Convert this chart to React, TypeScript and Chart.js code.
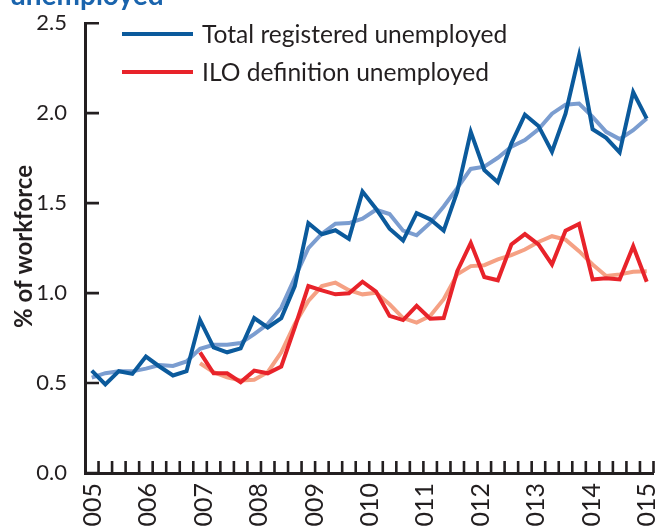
import React, { useEffect, useRef } from "react";
import { Chart, registerables } from "chart.js";

Chart.register(...registerables);

// ---------- data ----------
const years = [2005, 2006, 2007, 2008, 2009, 2010, 2011, 2012, 2013, 2014, 2015];
const quarterNames = ["Q1", "Q2", "Q3", "Q4"];
// quarterly categories, 2005 Q1 .. 2015 Q2
const quarters: string[] = [];
years.forEach((y) => quarterNames.forEach((q) => quarters.push(`${y} ${q}`)));
quarters.splice(42);

const totalRegistered = [
  0.569, 0.492, 0.566, 0.551, 0.647, 0.592, 0.542, 0.566,
  0.85, 0.698, 0.671, 0.693, 0.861, 0.809, 0.861, 1.039,
  1.389, 1.327, 1.349, 1.301, 1.564, 1.469, 1.358, 1.292,
  1.444, 1.41, 1.347, 1.564, 1.896, 1.684, 1.616, 1.831,
  1.992, 1.929, 1.786, 1.997, 2.32, 1.911, 1.863, 1.782,
  2.117, 1.97,
];
const totalTrend = [
  0.53, 0.555, 0.565, 0.565, 0.58, 0.6, 0.595, 0.62,
  0.69, 0.713, 0.713, 0.722, 0.772, 0.828, 0.919, 1.085,
  1.25, 1.33, 1.386, 1.389, 1.413, 1.463, 1.439, 1.347,
  1.321, 1.39, 1.481, 1.583, 1.69, 1.703, 1.752, 1.813,
  1.85, 1.91, 1.997, 2.047, 2.053, 1.979, 1.896, 1.856,
  1.905, 1.97,
];
const iloUnemployed = [
  null, null, null, null, null, null, null, null,
  0.67, 0.554, 0.554, 0.505, 0.569, 0.554, 0.592, 0.809,
  1.039, 1.015, 0.993, 0.999, 1.063, 1.008, 0.873, 0.85,
  0.929, 0.858, 0.861, 1.122, 1.279, 1.089, 1.071, 1.27,
  1.328, 1.27, 1.159, 1.347, 1.384, 1.076, 1.082, 1.076,
  1.26, 1.063,
];
const iloTrend = [
  null, null, null, null, null, null, null, null,
  0.61, 0.56, 0.532, 0.514, 0.518, 0.56, 0.671, 0.828,
  0.956, 1.039, 1.058, 1.016, 0.993, 1.002, 0.938, 0.861,
  0.836, 0.873, 0.966, 1.104, 1.15, 1.155, 1.187, 1.211,
  1.242, 1.284, 1.316, 1.297, 1.233, 1.159, 1.095, 1.104,
  1.118, 1.122,
];
const seriesLabels = ["Total registered unemployed", "ILO definition unemployed"];
const titleText = "unemployed";
const yAxisTitle = "% of workforce";

// ---------- styles ----------
const FONT = "Lato, 'Open Sans', sans-serif";
const AXIS = "#231f20";
const TEXT = "#231f20";
const BLUE = "#0b5a9c";
const BLUE_LIGHT = "#7b9dd0";
const RED = "#e8232a";
const SALMON = "#f5a184";
const TITLE_BLUE = "#1a64ad";

const decor = {
  id: "decor",
  beforeDatasetsDraw(chart: any) {
    const { ctx, chartArea, scales } = chart;
    const xs = scales.x;
    const ys = scales.y;
    ctx.save();
    ctx.strokeStyle = AXIS;
    ctx.lineWidth = 2.6;
    ctx.lineCap = "butt";
    ctx.beginPath();
    for (let i = 1; i <= quarters.length; i++) {
      const px = xs.getPixelForValue(i - 0.5);
      ctx.moveTo(px, chartArea.bottom);
      ctx.lineTo(px, chartArea.bottom - 12);
    }
    ys.ticks.forEach((t: any) => {
      const py = ys.getPixelForValue(t.value);
      ctx.moveTo(chartArea.left, py);
      ctx.lineTo(chartArea.left + 14, py);
    });
    ctx.stroke();
    ctx.restore();
  },
  afterDraw(chart: any) {
    const { ctx } = chart;
    ctx.save();
    // cut-off title
    ctx.fillStyle = TITLE_BLUE;
    ctx.font = `bold 28px ${FONT}`;
    ctx.textAlign = "left";
    ctx.textBaseline = "alphabetic";
    ctx.fillText(titleText, 10, 5);

    // y axis title
    ctx.save();
    ctx.translate(31.5, 246.5);
    ctx.rotate(-Math.PI / 2);
    ctx.fillStyle = TEXT;
    ctx.font = `bold 24px ${FONT}`;
    ctx.textAlign = "center";
    ctx.fillText(yAxisTitle, 0, 0);
    ctx.restore();

    // legend
    const items = [
      { ds: chart.data.datasets[0], y: 34 },
      { ds: chart.data.datasets[1], y: 72 },
    ];
    ctx.font = `24.6px ${FONT}`;
    ctx.textAlign = "left";
    items.forEach(({ ds, y }) => {
      ctx.strokeStyle = ds.borderColor;
      ctx.lineWidth = 4;
      ctx.beginPath();
      ctx.moveTo(122, y);
      ctx.lineTo(193, y);
      ctx.stroke();
      ctx.fillStyle = TEXT;
      ctx.fillText(ds.label, 202, y + 9.3);
    });
    ctx.restore();
  },
};

export default function App() {
  const ref = useRef<HTMLCanvasElement | null>(null);
  useEffect(() => {
    if (!ref.current) return;
    const line = (label: string, data: any[], color: string, order: number) => ({
      label,
      data,
      borderColor: color,
      backgroundColor: color,
      borderWidth: 4,
      pointRadius: 0,
      tension: 0,
      fill: false,
      order,
      xAxisID: "x",
      yAxisID: "y",
      borderJoinStyle: "miter" as const,
    });
    const chart = new Chart(ref.current, {
      type: "line",
      data: {
        labels: quarters,
        datasets: [
          line(seriesLabels[0], totalRegistered, BLUE, 0),
          line(seriesLabels[1], iloUnemployed, RED, 0),
          line("Total registered (trend)", totalTrend, BLUE_LIGHT, 1),
          line("ILO (trend)", iloTrend, SALMON, 1),
        ],
      },
      options: {
        animation: false,
        responsive: false,
        layout: { padding: { top: 20.7, right: 4.5, left: 0, bottom: 0 } },
        plugins: { legend: { display: false }, tooltip: { enabled: false }, title: { display: false } },
        scales: {
          x: {
            type: "category",
            offset: true,
            grid: { display: false, offset: true },
            border: { display: true, width: 3, color: AXIS },
            ticks: { display: false },
            afterFit: (s: any) => {
              s.height = 0;
              s.paddingLeft = s.paddingRight = s.paddingTop = s.paddingBottom = 0;
            },
          },
          x2: {
            type: "linear",
            axis: "x",
            position: "bottom",
            min: 2004.856,
            max: 2015.118,
            grid: { display: false },
            border: { display: false },
            afterBuildTicks: (s: any) => {
              s.ticks = years.map((v) => ({ value: v }));
            },
            ticks: {
              autoSkip: false,
              maxRotation: 90,
              minRotation: 90,
              padding: 2,
              color: TEXT,
              font: { family: FONT, size: 25 },
              callback: (v: any) => String(v),
            },
            afterFit: (s: any) => {
              s.height = 54;
              s.paddingLeft = s.paddingRight = s.paddingTop = s.paddingBottom = 0;
            },
          },
          y: {
            type: "linear",
            min: 0,
            max: 2.5,
            grid: { display: false },
            border: { display: true, width: 3, color: AXIS },
            ticks: {
              stepSize: 0.5,
              padding: 10,
              color: TEXT,
              font: { family: FONT, size: 22 },
              callback: (v: any) => Number(v).toFixed(1),
            },
            afterFit: (s: any) => {
              s.width = 85;
            },
          },
        },
      },
      plugins: [decor],
    });
    return () => chart.destroy();
  }, []);
  return (
    <div style={{ position: "absolute", left: 0, top: 0, width: 658, height: 527, background: "#fff" }}>
      <canvas ref={ref} width={658} height={527} style={{ display: "block" }} />
    </div>
  );
}
